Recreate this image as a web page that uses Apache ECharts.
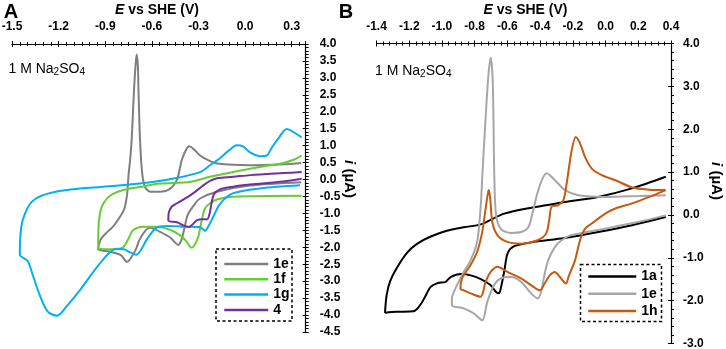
<!DOCTYPE html>
<html>
<head>
<meta charset="utf-8">
<script src="https://cdn.jsdelivr.net/npm/echarts@6/dist/echarts.min.js"></script>
<style>
  html, body { margin: 0; padding: 0; background: #fff; }
  #chart { width: 726px; height: 349px; }
</style>
</head>
<body>
<div id="chart"></div>
<script>
// panel A: [E vs SHE (V), i (uA)], cathodic branch first, then anodic
const a1e = [[0.36,-0.08],[0.03,-0.18],[-0.18,-0.36],[-0.29,-0.56],[-0.33,-0.76],[-0.37,-1.05],[-0.39,-1.43],[-0.41,-1.79],[-0.43,-1.93],[-0.48,-1.72],[-0.55,-1.54],[-0.61,-1.42],[-0.64,-1.50],[-0.68,-1.78],[-0.70,-2.03],[-0.73,-2.28],[-0.76,-2.43],[-0.80,-2.23],[-0.87,-2.13],[-0.945,-2.06],
  [-0.93,-1.78],[-0.89,-1.56],[-0.85,-1.39],[-0.82,-1.20],[-0.78,-0.90],[-0.76,-0.46],[-0.75,0.13],[-0.74,0.57],[-0.73,1.16],[-0.715,2.63],[-0.705,3.36],[-0.698,3.69],[-0.69,3.36],[-0.686,2.63],[-0.676,1.16],[-0.662,0.18],[-0.644,-0.22],[-0.61,-0.36],[-0.55,-0.36],[-0.48,-0.26],[-0.436,0.03],[-0.408,0.57],[-0.38,0.88],[-0.36,0.98],[-0.333,0.91],[-0.29,0.71],[-0.237,0.57],[-0.18,0.47],[0.03,0.42],[0.25,0.45],[0.36,0.49]];
const a1f = [[0.364,-0.48],[-0.08,-0.51],[-0.18,-0.59],[-0.226,-0.70],[-0.258,-0.85],[-0.279,-1.20],[-0.301,-1.69],[-0.329,-1.96],[-0.345,-2.01],[-0.38,-1.81],[-0.42,-1.64],[-0.48,-1.49],[-0.57,-1.39],[-0.655,-1.39],[-0.72,-1.49],[-0.75,-1.74],[-0.784,-1.99],[-0.85,-2.06],[-0.945,-2.04],
  [-0.945,-1.59],[-0.934,-1.00],[-0.912,-0.71],[-0.869,-0.48],[-0.784,-0.31],[-0.676,-0.22],[-0.548,-0.12],[-0.355,-0.07],[-0.226,0.08],[0.032,0.32],[0.246,0.49],[0.321,0.60],[0.364,0.71]];
const a1g = [[0.353,-0.17],[0.10,-0.26],[-0.08,-0.41],[-0.16,-0.71],[-0.205,-1.10],[-0.237,-1.39],[-0.258,-1.51],[-0.29,-1.40],[-0.40,-1.39],[-0.50,-1.37],[-0.57,-1.42],[-0.63,-1.75],[-0.70,-2.22],[-0.74,-2.15],[-0.78,-2.06],[-0.83,-2.04],[-0.93,-2.45],[-1.06,-3.25],[-1.15,-3.75],[-1.21,-4.02],[-1.27,-3.90],[-1.32,-3.43],[-1.365,-2.84],[-1.40,-2.40],[-1.45,-2.21],
  [-1.44,-1.39],[-1.416,-1.00],[-1.373,-0.66],[-1.30,-0.46],[-1.15,-0.31],[-0.93,-0.22],[-0.68,-0.12],[-0.46,0.03],[-0.29,0.22],[-0.226,0.42],[-0.162,0.63],[-0.104,0.86],[-0.054,1.01],[-0.014,0.98],[0.032,0.80],[0.096,0.69],[0.139,0.71],[0.173,0.95],[0.218,1.24],[0.268,1.49],[0.308,1.41],[0.364,1.24]];
const a4 = [[0.364,0.02],[0.246,-0.06],[0.032,-0.15],[-0.076,-0.21],[-0.162,-0.29],[-0.20,-0.43],[-0.216,-0.70],[-0.229,-1.02],[-0.245,-1.18],[-0.277,-1.17],[-0.31,-1.20],[-0.335,-1.31],[-0.361,-1.40],[-0.394,-1.36],[-0.438,-1.26],[-0.494,-1.21],
  [-0.49,-0.96],[-0.47,-0.79],[-0.438,-0.70],[-0.393,-0.58],[-0.333,-0.40],[-0.271,-0.18],[-0.226,-0.04],[-0.181,0.04],[-0.076,0.08],[0.032,0.13],[0.246,0.19],[0.364,0.22]];

// panel B
const b1a = [[0.368,-0.05],[0.161,-0.24],[-0.045,-0.40],[-0.25,-0.54],[-0.455,-0.64],[-0.558,-0.73],[-0.598,-0.89],[-0.618,-1.29],[-0.639,-1.69],[-0.651,-1.83],[-0.669,-1.80],[-0.702,-1.64],[-0.762,-1.50],[-0.824,-1.41],[-0.885,-1.38],[-0.947,-1.45],[-0.978,-1.56],[-1.027,-1.59],[-1.069,-1.68],[-1.107,-1.94],[-1.138,-2.13],[-1.175,-2.25],[-1.277,-2.26],[-1.348,-2.28],
  [-1.338,-1.87],[-1.317,-1.55],[-1.278,-1.25],[-1.215,-0.89],[-1.155,-0.68],[-1.072,-0.51],[-0.970,-0.37],[-0.867,-0.29],[-0.762,-0.22],[-0.70,-0.11],[-0.62,0.03],[-0.497,0.14],[-0.353,0.23],[-0.25,0.30],[-0.045,0.42],[0.161,0.62],[0.368,0.89]];
const b1e = [[0.368,-0.01],[0.204,-0.16],[-0.002,-0.32],[-0.207,-0.47],[-0.269,-0.59],[-0.310,-0.75],[-0.351,-1.06],[-0.372,-1.37],[-0.392,-1.76],[-0.414,-1.95],[-0.455,-1.83],[-0.517,-1.56],[-0.579,-1.45],[-0.640,-1.48],[-0.682,-1.64],[-0.723,-2.03],[-0.754,-2.46],[-0.805,-2.30],[-0.867,-2.18],[-0.939,-2.11],
  [-0.939,-1.95],[-0.908,-1.64],[-0.867,-1.33],[-0.825,-1.06],[-0.785,-0.63],[-0.764,0.15],[-0.753,0.93],[-0.734,2.21],[-0.716,3.26],[-0.702,3.67],[-0.691,3.26],[-0.685,2.21],[-0.680,0.93],[-0.669,-0.01],[-0.639,-0.33],[-0.577,-0.42],[-0.516,-0.40],[-0.472,-0.29],[-0.447,0.04],[-0.415,0.53],[-0.386,0.84],[-0.361,0.97],[-0.310,0.81],[-0.248,0.58],[-0.166,0.46],[-0.002,0.42],[0.204,0.44],[0.368,0.46]];
const b1h = [[0.368,0.58],[0.266,0.42],[0.163,0.27],[0.060,0.15],[-0.002,0.03],[-0.084,-0.20],[-0.125,-0.32],[-0.156,-0.59],[-0.187,-1.06],[-0.227,-1.45],[-0.241,-1.60],[-0.279,-1.45],[-0.310,-1.33],[-0.341,-1.41],[-0.372,-1.60],[-0.402,-1.76],[-0.455,-1.64],[-0.517,-1.48],[-0.600,-1.33],[-0.661,-1.21],[-0.702,-1.33],[-0.733,-1.56],[-0.764,-1.91],[-0.825,-1.83],[-0.867,-1.76],[-0.887,-1.72],
  [-0.877,-1.48],[-0.825,-1.17],[-0.785,-0.86],[-0.754,-0.40],[-0.733,0.15],[-0.719,0.51],[-0.713,0.58],[-0.704,0.34],[-0.692,-0.17],[-0.661,-0.47],[-0.600,-0.63],[-0.517,-0.67],[-0.415,-0.59],[-0.363,-0.43],[-0.343,-0.08],[-0.330,0.19],[-0.289,0.23],[-0.258,0.34],[-0.238,0.73],[-0.207,1.51],[-0.182,1.82],[-0.156,1.67],[-0.125,1.35],[-0.084,1.08],[-0.023,0.93],[0.060,0.81],[0.163,0.64],[0.266,0.59],[0.368,0.58]];

const namesA = ['1e', '1f', '1g', '4'];
const namesB = ['1a', '1e', '1h'];

const font = 'Liberation Sans, Arial, sans-serif';
const black = '#000';

function onStep(v, min, step) {
  const k = (v - min) / step;
  return Math.abs(k - Math.round(k)) < 1e-6;
}
function fmt1(v) {
  return Math.abs(v) < 1e-9 ? '0.0' : v.toFixed(1);
}

// main axis with labels + two tick-only axes shifted so the ticks cross the line
function xAxes(gridIndex, min, max, major, minor) {
  const base = { type: 'value', gridIndex, position: 'top', min, max, splitLine: { show: false } };
  const hidden = { axisLine: { show: false, onZero: false }, axisLabel: { show: false } };
  return [
    { ...base, interval: major,
      axisLine: { show: true, onZero: false, lineStyle: { color: black, width: 1.2 } },
      axisTick: { show: false },
      axisLabel: { margin: 11, color: black, fontSize: 12, fontWeight: 'bold', fontFamily: font,
        formatter: v => onStep(v, min, major) ? fmt1(v) : '' } },
    { ...base, ...hidden, interval: major, offset: -3,
      axisTick: { show: true, length: 6, lineStyle: { color: black, width: 1 } } },
    { ...base, ...hidden, interval: minor, offset: -2,
      axisTick: { show: true, length: 4, lineStyle: { color: black, width: 1 } } }
  ];
}
function yAxes(gridIndex, min, max, major, split, margin) {
  const base = { type: 'value', gridIndex, position: 'right', min, max, interval: major, splitLine: { show: false } };
  return [
    { ...base,
      axisLine: { show: true, onZero: false, lineStyle: { color: black, width: 1.2 } },
      axisTick: { show: true, length: 3, lineStyle: { color: black, width: 1 } },
      minorTick: { show: true, splitNumber: split, length: 3, lineStyle: { color: black, width: 1 } },
      axisLabel: { margin, color: black, fontSize: 12, fontWeight: 'bold', fontFamily: font, formatter: fmt1 } },
    { ...base, offset: -3,
      axisLine: { show: false, onZero: false }, axisLabel: { show: false },
      axisTick: { show: true, length: 3, lineStyle: { color: black, width: 1 } } }
  ];
}

function line(panel, name, data, color, xi, yi) {
  return {
    type: 'line', name: panel + ' ' + name, data, xAxisIndex: xi, yAxisIndex: yi,
    symbol: 'none', smooth: 0.3, lineStyle: { color, width: 2 }, itemStyle: { color }
  };
}

const colorsA = ['#7f7f7f', '#66cc33', '#00b0f0', '#7030a0'];
const colorsB = ['#000000', '#a6a6a6', '#c55a11'];
const dataA = [a1e, a1f, a1g, a4];
const dataB = [b1a, b1e, b1h];

const legendText = { fontSize: 14, fontWeight: 'bold', fontFamily: font, color: black };
// line-only legend keys: hide the marker that is drawn in the middle
const legendKey = { itemStyle: { opacity: 0 }, lineStyle: { width: 2.5 } };
function txt(x, y, text, size, extra) {
  return { type: 'text', x, y, silent: true, ...extra,
    style: { text, fontSize: size, fontFamily: font, fill: black, align: 'center', verticalAlign: 'middle',
      ...(extra && extra.style) } };
}
const italic = (size) => ({ i: { fontStyle: 'italic', fontWeight: 'bold', fontSize: size, fontFamily: font } });
const sub = { s: { fontSize: 10, fontFamily: font, lineHeight: 10, padding: [7, 0, 0, 0] } };

const chart = echarts.init(document.getElementById('chart'));
chart.setOption({
  animation: false,
  grid: [
    { left: 12, top: 44, width: 293.7, height: 288, outerBoundsMode: 'none' },
    { left: 376.5, top: 43.5, width: 294.5, height: 300, outerBoundsMode: 'none' }
  ],
  xAxis: [...xAxes(0, -1.5, 0.39, 0.3, 0.05), ...xAxes(1, -1.4, 0.4, 0.2, 0.04)],
  yAxis: [...yAxes(0, -4.5, 4, 0.5, 5, 14), ...yAxes(1, -3, 4, 1, 5, 12)],
  legend: [
    { data: namesA.map(n => 'A ' + n), left: 223, top: 257, orient: 'vertical', padding: 0,
      itemWidth: 44, itemHeight: 14, itemGap: 1.3, selectedMode: false, ...legendKey,
      formatter: n => n.slice(2), textStyle: legendText },
    { data: namesB.map(n => 'B ' + n), left: 587, top: 269.5, orient: 'vertical', padding: 0,
      itemWidth: 48, itemHeight: 14, itemGap: 3.2, selectedMode: false, ...legendKey,
      formatter: n => n.slice(2), textStyle: legendText }
  ],
  series: [
    ...namesA.map((n, k) => line('A', n, dataA[k], colorsA[k], 0, 0)),
    ...namesB.map((n, k) => line('B', n, dataB[k], colorsB[k], 3, 2))
  ],
  graphic: [
    txt(11, 12, 'A', 20, { style: { fontWeight: 'bold' } }),
    txt(346, 12, 'B', 20, { style: { fontWeight: 'bold' } }),
    txt(157, 10, '{i|E} vs SHE (V)', 14, { style: { fontWeight: 'bold', rich: italic(14) } }),
    txt(525.5, 10, '{i|E} vs SHE (V)', 14, { style: { fontWeight: 'bold', rich: italic(14) } }),
    txt(349, 179, '{i|i} (µA)', 15, { rotation: -Math.PI / 2, style: { fontWeight: 'bold', rich: italic(15) } }),
    txt(716, 181, '{i|i} (µA)', 15, { rotation: -Math.PI / 2, style: { fontWeight: 'bold', rich: italic(15) } }),
    txt(8.5, 69, '1 M Na{s|2}SO{s|4}', 14, { style: { align: 'left', rich: sub } }),
    txt(375, 71, '1 M Na{s|2}SO{s|4}', 14, { style: { align: 'left', rich: sub } }),
    { type: 'rect', silent: true, shape: { x: 216, y: 249, width: 76, height: 72 },
      style: { fill: 'none', stroke: black, lineWidth: 1.5, lineDash: [3, 2.5] } },
    { type: 'rect', silent: true, shape: { x: 580.5, y: 264.5, width: 81, height: 57 },
      style: { fill: 'none', stroke: black, lineWidth: 1.5, lineDash: [3, 2.5] } }
  ]
});
</script>
</body>
</html>
